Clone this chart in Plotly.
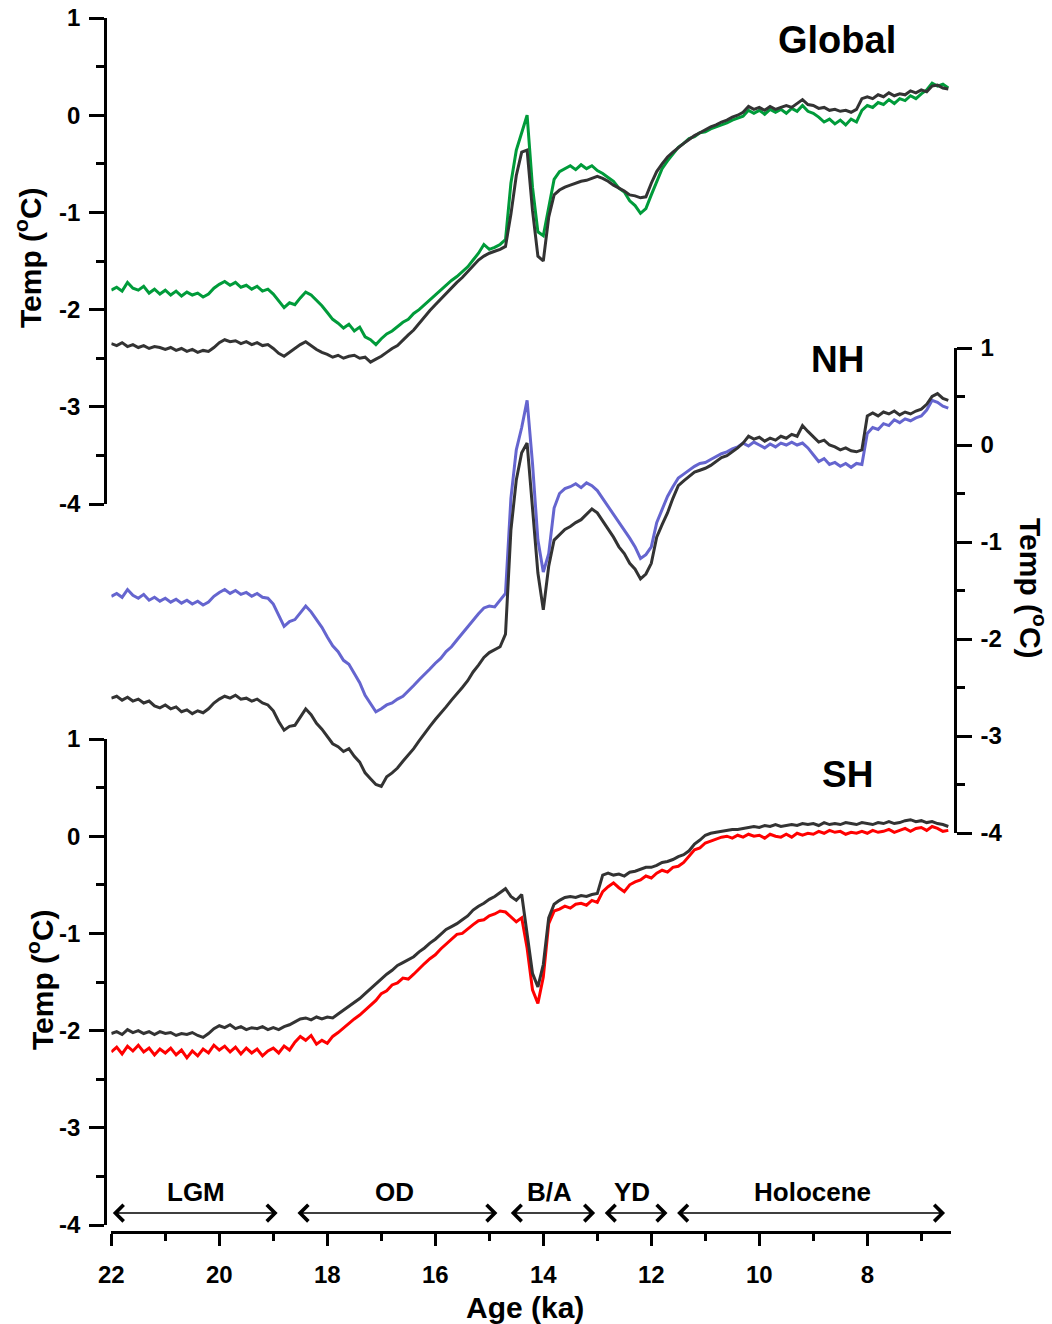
import numpy as np
import plotly.graph_objects as go

# Age axis (ka), 22.0 -> 6.5 every 0.1 ka
ages = np.round(np.arange(22.0, 6.45, -0.1), 1)

global_proxy = [
    -1.80,-1.77,-1.81,-1.72,-1.78,-1.80,-1.76,-1.83,-1.79,-1.84,
    -1.80,-1.85,-1.81,-1.86,-1.82,-1.85,-1.83,-1.87,-1.84,-1.78,
    -1.74,-1.71,-1.75,-1.72,-1.77,-1.75,-1.79,-1.76,-1.81,-1.79,
    -1.84,-1.91,-1.98,-1.93,-1.95,-1.88,-1.82,-1.85,-1.90,-1.96,
    -2.03,-2.10,-2.14,-2.19,-2.15,-2.22,-2.18,-2.28,-2.31,-2.36,
    -2.30,-2.25,-2.22,-2.17,-2.13,-2.10,-2.04,-2.00,-1.95,-1.89,
    -1.84,-1.79,-1.75,-1.70,-1.66,-1.61,-1.56,-1.49,-1.42,-1.33,
    -1.38,-1.36,-1.33,-1.28,-0.70,-0.36,-0.18,0.00,-0.74,-1.20,
    -1.24,-0.95,-0.66,-0.58,-0.55,-0.52,-0.56,-0.51,-0.55,-0.52,
    -0.57,-0.60,-0.64,-0.68,-0.75,-0.79,-0.88,-0.93,-1.01,-0.96,
    -0.82,-0.68,-0.55,-0.47,-0.40,-0.33,-0.29,-0.24,-0.22,-0.18,
    -0.17,-0.14,-0.12,-0.10,-0.08,-0.05,-0.03,-0.01,0.05,0.02,
    0.05,0.01,0.06,0.03,0.06,0.02,0.07,0.04,0.10,0.04,
    0.02,-0.02,-0.07,-0.04,-0.09,-0.05,-0.10,-0.04,-0.07,0.05,
    0.10,0.08,0.13,0.11,0.16,0.12,0.17,0.15,0.20,0.17,
    0.22,0.26,0.33,0.30,0.32,0.28,
]
global_model = [
    -2.35,-2.37,-2.34,-2.38,-2.36,-2.39,-2.37,-2.40,-2.38,-2.39,
    -2.41,-2.39,-2.42,-2.40,-2.43,-2.41,-2.44,-2.42,-2.43,-2.39,
    -2.34,-2.31,-2.33,-2.32,-2.35,-2.33,-2.36,-2.34,-2.37,-2.36,
    -2.40,-2.45,-2.48,-2.44,-2.40,-2.36,-2.33,-2.37,-2.41,-2.44,
    -2.46,-2.49,-2.47,-2.50,-2.48,-2.47,-2.50,-2.49,-2.54,-2.51,
    -2.48,-2.44,-2.40,-2.37,-2.31,-2.26,-2.21,-2.14,-2.07,-2.01,
    -1.95,-1.89,-1.84,-1.78,-1.72,-1.67,-1.61,-1.55,-1.49,-1.45,
    -1.42,-1.40,-1.38,-1.35,-1.02,-0.62,-0.38,-0.36,-0.98,-1.45,
    -1.50,-1.05,-0.82,-0.77,-0.74,-0.72,-0.70,-0.68,-0.67,-0.65,
    -0.63,-0.65,-0.68,-0.72,-0.75,-0.78,-0.82,-0.83,-0.85,-0.84,
    -0.70,-0.58,-0.50,-0.43,-0.38,-0.33,-0.29,-0.25,-0.21,-0.18,
    -0.15,-0.12,-0.10,-0.07,-0.05,-0.02,0.00,0.03,0.09,0.06,
    0.08,0.05,0.09,0.06,0.08,0.10,0.08,0.12,0.16,0.11,
    0.10,0.07,0.08,0.05,0.06,0.04,0.05,0.03,0.06,0.17,
    0.19,0.17,0.21,0.19,0.23,0.20,0.22,0.21,0.25,0.23,
    0.26,0.24,0.30,0.31,0.28,0.27,
]
nh_proxy = [
    -1.56,-1.53,-1.57,-1.49,-1.55,-1.58,-1.54,-1.60,-1.57,-1.61,
    -1.58,-1.62,-1.59,-1.63,-1.60,-1.64,-1.61,-1.65,-1.62,-1.56,
    -1.52,-1.49,-1.53,-1.50,-1.54,-1.52,-1.56,-1.53,-1.57,-1.58,
    -1.64,-1.76,-1.87,-1.82,-1.80,-1.73,-1.66,-1.72,-1.80,-1.88,
    -1.98,-2.07,-2.13,-2.22,-2.26,-2.35,-2.45,-2.58,-2.66,-2.75,
    -2.72,-2.68,-2.66,-2.62,-2.59,-2.54,-2.48,-2.42,-2.37,-2.31,
    -2.25,-2.20,-2.13,-2.08,-2.01,-1.94,-1.87,-1.81,-1.74,-1.68,
    -1.66,-1.67,-1.60,-1.53,-0.55,-0.05,0.18,0.46,-0.19,-0.98,
    -1.31,-1.12,-0.65,-0.50,-0.45,-0.43,-0.40,-0.44,-0.39,-0.42,
    -0.47,-0.55,-0.64,-0.72,-0.79,-0.88,-0.96,-1.05,-1.17,-1.13,
    -1.05,-0.80,-0.66,-0.53,-0.43,-0.34,-0.30,-0.26,-0.22,-0.19,
    -0.18,-0.15,-0.12,-0.09,-0.07,-0.04,-0.02,0.02,-0.01,0.03,
    0.00,-0.03,0.01,-0.02,0.02,0.00,0.03,0.00,0.02,-0.03,
    -0.10,-0.17,-0.14,-0.20,-0.18,-0.22,-0.19,-0.23,-0.19,-0.20,
    0.12,0.18,0.16,0.22,0.20,0.26,0.23,0.27,0.25,0.28,
    0.30,0.36,0.46,0.44,0.40,0.38,
]
nh_model = [
    -2.61,-2.59,-2.63,-2.60,-2.64,-2.62,-2.66,-2.64,-2.69,-2.71,
    -2.68,-2.72,-2.70,-2.75,-2.73,-2.77,-2.74,-2.76,-2.72,-2.66,
    -2.62,-2.59,-2.61,-2.58,-2.62,-2.61,-2.64,-2.62,-2.66,-2.68,
    -2.74,-2.85,-2.94,-2.90,-2.89,-2.80,-2.72,-2.78,-2.87,-2.93,
    -3.00,-3.08,-3.11,-3.16,-3.13,-3.21,-3.27,-3.38,-3.44,-3.50,
    -3.52,-3.42,-3.38,-3.33,-3.26,-3.20,-3.13,-3.05,-2.97,-2.90,
    -2.83,-2.77,-2.70,-2.63,-2.57,-2.50,-2.43,-2.34,-2.27,-2.19,
    -2.14,-2.11,-2.08,-1.95,-0.88,-0.36,-0.08,0.02,-0.70,-1.32,
    -1.70,-1.25,-0.98,-0.92,-0.87,-0.84,-0.80,-0.77,-0.72,-0.66,
    -0.70,-0.78,-0.86,-0.95,-1.05,-1.12,-1.22,-1.28,-1.38,-1.33,
    -1.22,-0.95,-0.82,-0.70,-0.55,-0.42,-0.37,-0.32,-0.28,-0.26,
    -0.24,-0.21,-0.17,-0.13,-0.11,-0.07,-0.03,0.02,0.09,0.06,
    0.08,0.04,0.07,0.05,0.09,0.07,0.11,0.09,0.20,0.14,
    0.08,0.03,0.05,0.00,-0.02,-0.05,-0.03,-0.06,-0.07,-0.05,
    0.30,0.33,0.30,0.34,0.32,0.35,0.31,0.34,0.32,0.35,
    0.37,0.42,0.50,0.53,0.48,0.46,
]
sh_proxy = [
    -2.22,-2.17,-2.24,-2.16,-2.21,-2.15,-2.22,-2.18,-2.25,-2.19,
    -2.23,-2.18,-2.25,-2.20,-2.28,-2.21,-2.26,-2.19,-2.23,-2.15,
    -2.20,-2.16,-2.22,-2.17,-2.24,-2.18,-2.23,-2.19,-2.26,-2.21,
    -2.18,-2.23,-2.16,-2.20,-2.12,-2.06,-2.10,-2.05,-2.14,-2.10,
    -2.13,-2.06,-2.02,-1.97,-1.93,-1.88,-1.84,-1.79,-1.73,-1.69,
    -1.62,-1.59,-1.53,-1.51,-1.46,-1.47,-1.42,-1.36,-1.31,-1.26,
    -1.22,-1.16,-1.11,-1.07,-1.01,-1.00,-0.95,-0.91,-0.87,-0.86,
    -0.82,-0.80,-0.77,-0.78,-0.83,-0.88,-0.84,-1.15,-1.58,-1.72,
    -1.45,-0.90,-0.77,-0.75,-0.72,-0.74,-0.70,-0.69,-0.71,-0.66,
    -0.68,-0.57,-0.52,-0.48,-0.53,-0.57,-0.50,-0.47,-0.45,-0.41,
    -0.43,-0.38,-0.35,-0.37,-0.32,-0.31,-0.27,-0.21,-0.14,-0.12,
    -0.07,-0.05,-0.03,-0.01,0.00,-0.02,0.01,-0.01,0.02,0.00,
    0.01,-0.02,0.02,0.00,-0.01,0.02,-0.01,0.03,0.01,0.03,
    0.02,0.05,0.03,0.06,0.04,0.05,0.02,0.04,0.03,0.05,
    0.03,0.06,0.04,0.05,0.07,0.04,0.06,0.08,0.05,0.08,
    0.09,0.06,0.10,0.08,0.05,0.06,
]
sh_model = [
    -2.03,-2.01,-2.04,-1.99,-2.02,-2.00,-2.03,-2.01,-2.04,-2.01,
    -2.03,-2.02,-2.05,-2.03,-2.04,-2.02,-2.05,-2.07,-2.03,-1.98,
    -1.95,-1.97,-1.94,-1.98,-1.96,-1.99,-1.97,-1.98,-1.96,-1.99,
    -1.97,-1.99,-1.96,-1.94,-1.91,-1.88,-1.87,-1.89,-1.86,-1.88,
    -1.86,-1.87,-1.83,-1.79,-1.75,-1.71,-1.67,-1.62,-1.57,-1.52,
    -1.46,-1.42,-1.38,-1.33,-1.30,-1.27,-1.24,-1.19,-1.15,-1.10,
    -1.06,-1.01,-0.96,-0.93,-0.90,-0.86,-0.82,-0.76,-0.72,-0.69,
    -0.65,-0.62,-0.58,-0.54,-0.62,-0.66,-0.60,-0.98,-1.41,-1.55,
    -1.32,-0.84,-0.70,-0.66,-0.63,-0.62,-0.63,-0.61,-0.62,-0.60,
    -0.59,-0.40,-0.38,-0.40,-0.39,-0.41,-0.37,-0.36,-0.34,-0.32,
    -0.32,-0.30,-0.27,-0.26,-0.24,-0.21,-0.19,-0.15,-0.08,-0.04,
    0.01,0.03,0.04,0.05,0.06,0.07,0.07,0.08,0.09,0.10,
    0.09,0.11,0.10,0.12,0.10,0.11,0.12,0.11,0.13,0.12,
    0.13,0.11,0.14,0.12,0.13,0.12,0.14,0.13,0.12,0.14,
    0.13,0.12,0.14,0.13,0.15,0.13,0.14,0.16,0.17,0.15,
    0.16,0.14,0.15,0.13,0.12,0.10,
]

# Climate periods: name, start age, end age
period_names = ["LGM", "OD", "B/A", "YD", "Holocene"]
period_start = [22.0, 18.58, 14.63, 12.89, 11.55]
period_end = [18.92, 14.85, 13.04, 11.70, 6.56]
period_label_x = [20.43, 16.75, 13.88, 12.35, 9.02]

x_ticks = [22, 20, 18, 16, 14, 12, 10, 8]
x_ticktext = ["22", "20", "18", "16", "14", "12", "10", "8"]
y_ticks = [-4, -3, -2, -1, 0, 1]
y_ticktext = ["-4", "-3", "-2", "-1", "0", "1"]

FONT = "Liberation Sans, Arial, Helvetica, sans-serif"
C_GREEN = "#009b3a"
C_BLUE = "#6565cf"
C_RED = "#ff0000"
C_BLACK = "#333333"
LW = 3.0

fig = go.Figure()
fig.add_trace(go.Scatter(x=ages, y=global_proxy, mode="lines", line=dict(color=C_GREEN, width=LW), xaxis="x", yaxis="y"))
fig.add_trace(go.Scatter(x=ages, y=global_model, mode="lines", line=dict(color=C_BLACK, width=LW), xaxis="x", yaxis="y"))
fig.add_trace(go.Scatter(x=ages, y=nh_proxy, mode="lines", line=dict(color=C_BLUE, width=LW), xaxis="x", yaxis="y2"))
fig.add_trace(go.Scatter(x=ages, y=nh_model, mode="lines", line=dict(color=C_BLACK, width=LW), xaxis="x", yaxis="y2"))
fig.add_trace(go.Scatter(x=ages, y=sh_proxy, mode="lines", line=dict(color=C_RED, width=LW), xaxis="x", yaxis="y3"))
fig.add_trace(go.Scatter(x=ages, y=sh_model, mode="lines", line=dict(color=C_BLACK, width=LW), xaxis="x", yaxis="y3"))

W, H = 1052, 1324
ML, MR, MT, MB = 105, 97, 18, 92
PW, PH = W - ML - MR, H - MT - MB


def px_x(p):
    return (p - ML) / PW


def px_y(p):
    return (H - MB - p) / PH


ytickfont = dict(family=FONT, size=24, color="black", weight="bold")
xtickfont = dict(family=FONT, size=24, color="black", weight="bold")
yaxis_common = dict(
    range=[-4, 1], tickvals=y_ticks, ticktext=y_ticktext, ticks="outside", ticklen=15, tickwidth=2.5,
    showline=True, linewidth=2.5, linecolor="black", showgrid=False, zeroline=False,
    tickfont=ytickfont, anchor="free", automargin=False, ticklabelstandoff=4,
    minor=dict(dtick=0.5, ticks="outside", ticklen=8, tickwidth=2.5, tickcolor="black", showgrid=False),
    tickcolor="black", fixedrange=True,
)

fig.update_layout(
    width=W, height=H,
    margin=dict(l=ML, r=MR, t=MT, b=MB, autoexpand=False),
    paper_bgcolor="white", plot_bgcolor="rgba(0,0,0,0)",
    showlegend=False,
    font=dict(family=FONT, color="black"),
    xaxis=dict(
        domain=[px_x(111.3), px_x(951)], range=[22, 6.45], anchor="free", position=0,
        tickvals=x_ticks, ticktext=x_ticktext, ticks="outside", ticklen=12, tickwidth=2.5, tickcolor="black",
        showline=True, linewidth=2.5, linecolor="black", showgrid=False, zeroline=False,
        tickfont=xtickfont, ticklabelstandoff=8, automargin=False,
        minor=dict(dtick=1, tick0=21, ticks="outside", ticklen=7, tickwidth=2.5, tickcolor="black", showgrid=False),
    ),
    yaxis=dict(domain=[px_y(504), px_y(18)], position=0, side="left", **yaxis_common),
    yaxis2=dict(domain=[px_y(833), px_y(348)], position=1, side="right", **yaxis_common),
    yaxis3=dict(domain=[px_y(1225), px_y(739)], position=0, side="left", **yaxis_common),
)

ann = []
ann.append(dict(text="<b>Global</b>", x=8.57, y=0.77, xref="x", yref="y", showarrow=False,
                font=dict(size=38, family=FONT), xanchor="center", yanchor="middle"))
ann.append(dict(text="<b>NH</b>", x=8.56, y=0.88, xref="x", yref="y2", showarrow=False,
                font=dict(size=37, family=FONT), xanchor="center", yanchor="middle"))
ann.append(dict(text="<b>SH</b>", x=8.37, y=0.63, xref="x", yref="y3", showarrow=False,
                font=dict(size=37, family=FONT), xanchor="center", yanchor="middle"))

title_txt = "<b>Temp (<sup>o</sup>C)</b>"
ann.append(dict(text=title_txt, x=px_x(28), y=px_y(258), xref="paper", yref="paper", showarrow=False,
                textangle=-90, font=dict(size=30, family=FONT), xanchor="center", yanchor="middle"))
ann.append(dict(text=title_txt, x=px_x(40), y=px_y(980), xref="paper", yref="paper", showarrow=False,
                textangle=-90, font=dict(size=30, family=FONT), xanchor="center", yanchor="middle"))
ann.append(dict(text=title_txt, x=px_x(1033), y=px_y(588), xref="paper", yref="paper", showarrow=False,
                textangle=90, font=dict(size=30, family=FONT), xanchor="center", yanchor="middle"))
ann.append(dict(text="<b>Age (ka)</b>", x=px_x(525), y=px_y(1307), xref="paper", yref="paper", showarrow=False,
                font=dict(size=30, family=FONT), xanchor="center", yanchor="middle"))

arrow_y = -3.877
label_y = -3.66
for name, s, e, lx in zip(period_names, period_start, period_end, period_label_x):
    ann.append(dict(x=e, y=arrow_y, ax=s, ay=arrow_y, xref="x", yref="y3", axref="x", ayref="y3",
                    text="", showarrow=True, arrowhead=4, startarrowhead=4, arrowside="end+start",
                    arrowwidth=1.6, arrowsize=2.0, startarrowsize=2.0, arrowcolor="black",
                    standoff=0, startstandoff=0))
    ann.append(dict(text="<b>" + name + "</b>", x=lx, y=label_y, xref="x", yref="y3", showarrow=False,
                    font=dict(size=26, family=FONT), xanchor="center", yanchor="middle"))

fig.update_layout(annotations=ann)
fig.write_html("out.html")
